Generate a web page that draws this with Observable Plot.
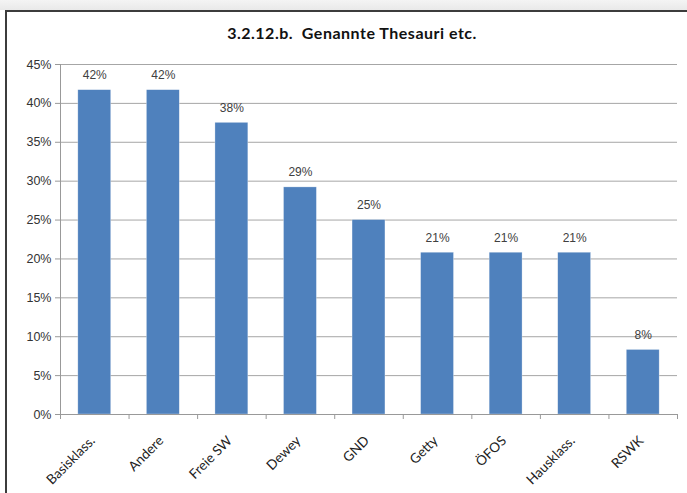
<!DOCTYPE html>
<html>
<head>
<meta charset="utf-8">
<script src="https://cdn.jsdelivr.net/npm/d3@7"></script>
<script src="https://cdn.jsdelivr.net/npm/@observablehq/plot@0.6"></script>
<style>
  html, body { margin: 0; padding: 0; background: #fff; }
  #wrap { position: relative; width: 687px; height: 493px; overflow: hidden; background: #fff; }
  #shade { position: absolute; left: 0; top: 0; width: 687px; height: 10px; background: linear-gradient(#f4f4f4, #e9e9e9); }
  #frame { position: absolute; left: 5px; top: 10px; width: 720px; height: 520px; border: 2px solid #3c3c3c; box-sizing: border-box; background: #fff; }
  #title { position: absolute; left: 0; width: 704px; top: 23px; text-align: center; font-family: Lato, "Open Sans", sans-serif; font-weight: bold; font-size: 16px; color: #111; letter-spacing: 0.5px; }
  #chart { position: absolute; left: 0; top: 0; }
</style>
</head>
<body>
<div id="wrap">
  <div id="shade"></div>
  <div id="frame"></div>
  <div id="title">3.2.12.b.&nbsp; Genannte Thesauri etc.</div>
  <div id="chart"></div>
</div>
<script>
const categories = ["Basisklass.", "Andere", "Freie SW", "Dewey", "GND", "Getty", "ÖFOS", "Hausklass.", "RSWK"];
const values = [0.417, 0.417, 0.375, 0.292, 0.25, 0.208, 0.208, 0.208, 0.083];
const yTicks = [0, 0.05, 0.10, 0.15, 0.20, 0.25, 0.30, 0.35, 0.40, 0.45];

const data = categories.map((c, i) => ({cat: c, i, v: values[i]}));
const pct = d3.format(".0%");
const boundaries = d3.range(categories.length + 1);

const chart = Plot.plot({
  width: 687,
  height: 493,
  marginTop: 64,
  marginBottom: 79,
  marginLeft: 60,
  marginRight: 10,
  style: {background: "transparent", fontFamily: "'Liberation Sans', Arial, sans-serif", fontSize: "12px", color: "#333"},
  x: {type: "linear", domain: [0, categories.length]},
  y: {domain: [0, 0.45]},
  marks: [
    Plot.gridY(yTicks, {stroke: "#a6a6a6", strokeOpacity: 1, strokeWidth: 1}),
    Plot.axisY(yTicks, {tickFormat: pct, tickSize: 5, tickPadding: 4, stroke: "#999", fill: "#333", fontSize: 12.5, label: null}),
    Plot.ruleX([0], {stroke: "#999"}),
    Plot.rectY(data, {x1: d => d.i + 0.26, x2: d => d.i + 0.74, y1: 0, y2: "v", fill: "#4F81BD", stroke: "#ffffff", strokeWidth: 0.6, strokeOpacity: 0.5}),
    Plot.ruleY([0], {stroke: "#999"}),
    Plot.axisX(boundaries, {tickFormat: () => "", tickSize: 5, stroke: "#999", label: null}),
    Plot.text(data, {x: d => d.i + 0.5, y: "v", text: d => pct(d.v), dy: -15, fill: "#404040", fontSize: 12}),
    Plot.text(data, {x: d => d.i + 0.5, y: 0, text: "cat", rotate: -45, textAnchor: "end", dx: -2, dy: 24, fill: "#222", fontSize: 13.5, fontFamily: "Lato, 'Open Sans', sans-serif"})
  ]
});
document.getElementById("chart").appendChild(chart);
</script>
</body>
</html>
